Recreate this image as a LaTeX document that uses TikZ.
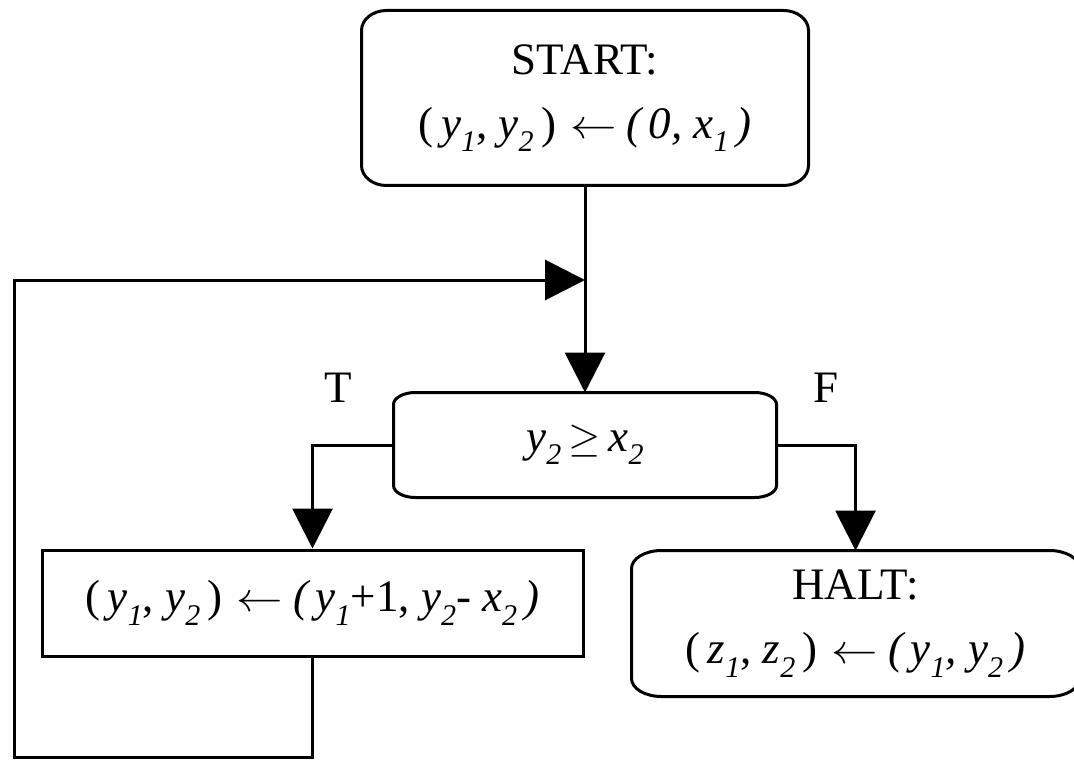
\documentclass[tikz,border=0pt]{standalone}
\usepackage{fontspec}
\setmainfont{Liberation Serif}
\usetikzlibrary{arrows.meta}
\newcommand{\lo}[1]{\raisebox{-0.65ex}{\fontsize{15}{15}\selectfont\itshape #1}}
\newcommand{\la}{\hspace{7pt}\scalebox{1.12}[1]{$\leftarrow$}\hspace{5pt}}
\newcommand{\ellbox}[3]{%
  \draw ([xshift=#2]#1.north west) -- ([xshift=-#2]#1.north east)
    arc[start angle=90,end angle=0,x radius=#2,y radius=#3]
    -- ([yshift=#3]#1.south east)
    arc[start angle=0,end angle=-90,x radius=#2,y radius=#3]
    -- ([xshift=#2]#1.south west)
    arc[start angle=270,end angle=180,x radius=#2,y radius=#3]
    -- ([yshift=-#3]#1.north west)
    arc[start angle=180,end angle=90,x radius=#2,y radius=#3] -- cycle;}
\begin{document}
\begin{tikzpicture}[x=0.5pt,y=-0.5pt,line width=1.5pt,
  box/.style={inner sep=0pt,align=center,font=\fontsize{22.5}{32}\selectfont},
  arr/.style={-{Triangle[length=20pt,width=20pt]}},
  lbl/.style={inner sep=0pt,font=\fontsize{22.5}{27}\selectfont}]
\useasboundingbox (0,0) rectangle (1074,759);
\node[box,minimum width=222pt,minimum height=86pt] (start) at (585,98)
  {START:\\(\,\textit{y}\lo{1}, \textit{y}\lo{2}\,)\la\textit{(\,0, x\lo{1}\,)}};
\ellbox{start}{12.5pt}{10pt}
\node[box,minimum width=190pt,minimum height=51pt] (dec) at (585,445)
  {\textit{y}\lo{2}\,$\geq$\,\textit{x}\lo{2}};
\ellbox{dec}{11pt}{6pt}
\node[box,draw,minimum width=270.5pt,minimum height=53pt] (asg) at (312.5,603)
  {(\,\textit{y}\lo{1}, \textit{y}\lo{2}\,)\la\textit{(\,y\lo{1}}+1, \textit{y\lo{2}}- \textit{x\lo{2}\,)}};
\node[box,minimum width=222.5pt,minimum height=71.5pt] (halt) at (855.5,623.5)
  {HALT:\\(\,\textit{z}\lo{1}, \textit{z}\lo{2}\,)\la\textit{(\,y\lo{1}, y\lo{2}\,)}};
\ellbox{halt}{15pt}{9pt}
\node[lbl] (tl) at (338,388) {T};
\node[lbl] (fl) at (826,388) {F};
\coordinate (merge) at (585,280);
\coordinate (c1) at (14,757);
\draw[arr] (start.south) -- (dec.north);
\draw[arr] (dec.west) -| (asg.north);
\draw[arr] (dec.east) -| (halt.north);
\draw[arr] (asg.south) |- (c1) |- (merge);
\end{tikzpicture}
\end{document}
